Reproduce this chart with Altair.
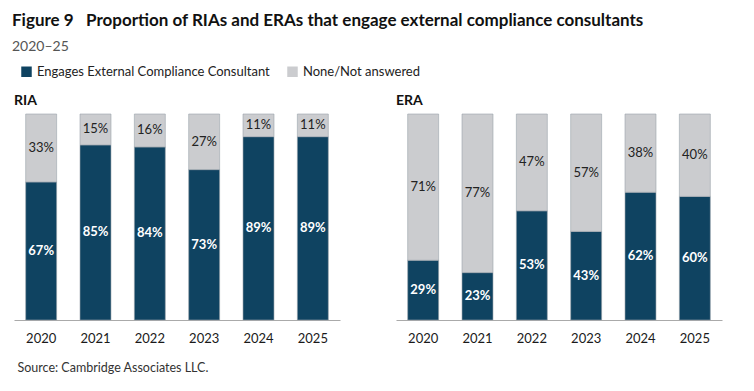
import altair as alt
import pandas as pd

# Survey years and share (%) of firms in each response group
years = ["2020", "2021", "2022", "2023", "2024", "2025"]
ria_engages = [67, 85, 84, 73, 89, 89]
ria_none = [33, 15, 16, 27, 11, 11]
era_engages = [29, 23, 53, 43, 62, 60]
era_none = [71, 77, 47, 57, 38, 40]

series = ["Engages External Compliance Consultant", "None/Not answered"]
colors = ["#0f4361", "#cbcccf"]
FONT = "Lato"


def long_frame(engages, none):
    rows = []
    for i, y in enumerate(years):
        rows.append({"year": y, "series": series[0], "order": 0, "value": engages[i]})
        rows.append({"year": y, "series": series[1], "order": 1, "value": none[i]})
    return pd.DataFrame(rows)


def panel(df, name, source=None):
    base = alt.Chart(df).transform_stack(
        stack="value", groupby=["year"], as_=["v0", "v1"],
        sort=[alt.SortField("order", order="ascending")],
    ).transform_calculate(
        mid="(datum.v0 + datum.v1) / 2",
        label="datum.value + '%'",
    )
    x_axis = alt.Axis(
        title=source if source else None,
        labelAngle=0, labelFontSize=13, labelColor="#1a1a1a", labelFont=FONT,
        labelPadding=12, ticks=False, domainColor="#aaaaaa", domainWidth=1.2,
        titleFont=FONT, titleFontSize=12.5, titleFontWeight="normal",
        titleColor="#333333", titleAnchor="start", titleAlign="left",
        titleX=3, titleY=47, titleBaseline="middle",
    )
    x = alt.X("year:N", axis=x_axis, scale=alt.Scale(paddingInner=0.43, paddingOuter=0.215))
    yscale = alt.Scale(domain=[0, 100])
    bars = base.mark_bar(stroke="#9aa3ab", strokeWidth=0.6).encode(
        x=x,
        y=alt.Y("v0:Q", axis=None, scale=yscale),
        y2="v1:Q",
        color=alt.Color(
            "series:N",
            scale=alt.Scale(domain=series, range=colors),
            legend=alt.Legend(
                title=None, orient="top", direction="horizontal",
                symbolType="square", symbolSize=110, symbolStrokeWidth=0,
                labelFont=FONT, labelFontSize=13, labelColor="#222222",
                labelLimit=0, columnPadding=16, offset=8, padding=6,
            ),
        ),
    )
    text_in = base.transform_filter(alt.datum.order == 0).mark_text(
        font=FONT, fontSize=13, fontWeight="bold", color="#ffffff"
    ).encode(x=x, y=alt.Y("mid:Q", scale=yscale), text="label:N")
    text_top = base.transform_filter(alt.datum.order == 1).mark_text(
        font=FONT, fontSize=13, color="#222222"
    ).encode(x=x, y=alt.Y("mid:Q", scale=yscale), text="label:N")
    return alt.layer(bars, text_in, text_top).properties(
        width=326, height=206,
        title=alt.TitleParams(name, anchor="start", fontSize=14, fontWeight="bold",
                              font=FONT, color="#111111", offset=6),
    )


ria = panel(long_frame(ria_engages, ria_none), "RIA", source="Source: Cambridge Associates LLC.")
era = panel(long_frame(era_engages, era_none), "ERA", source=" ")

chart = alt.hconcat(ria, era, spacing=56).properties(
    title=alt.TitleParams(
        "Figure 9\u00a0\u00a0\u00a0Proportion of RIAs and ERAs that engage external compliance consultants",
        subtitle="2020–25",
        anchor="start", font=FONT, fontSize=17, fontWeight="bold", color="#111111",
        subtitleFont=FONT, subtitleFontSize=14, subtitleColor="#555555",
        subtitlePadding=10, offset=4, dx=-2,
    ),
    padding={"left": 12, "top": 12, "right": 10, "bottom": 10},
).configure_view(stroke=None)

chart.save("out.html", embed_options={"renderer": "svg", "actions": False})
